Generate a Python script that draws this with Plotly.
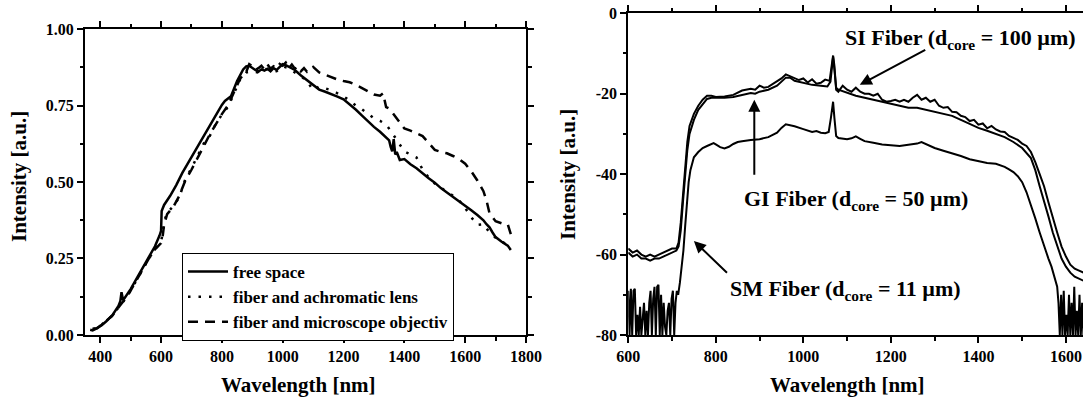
import plotly.graph_objects as go

FONT = "Liberation Serif"

# ---------------- Left panel data ----------------
free_space_wl = [367, 375, 385, 395, 405, 420, 440, 460, 466, 470, 475, 480, 500, 520, 540, 560,
                 580, 595, 600, 602, 610, 630, 650, 670, 690, 710, 730, 750, 770, 790, 800, 810,
                 830, 850, 870, 880, 890, 900, 910, 920, 930, 940, 950, 960, 970, 980, 990, 1000,
                 1010, 1020, 1040, 1060, 1080, 1100, 1120, 1140, 1160, 1180, 1200, 1220, 1240,
                 1260, 1280, 1300, 1320, 1340, 1350, 1355, 1360, 1365, 1370, 1375, 1385, 1400,
                 1420, 1440, 1460, 1480, 1500, 1520, 1540, 1560, 1580, 1600, 1620, 1640, 1660,
                 1670, 1680, 1690, 1700, 1720, 1740, 1750]
free_space_int = [0.017, 0.015, 0.020, 0.025, 0.032, 0.045, 0.065, 0.095, 0.110, 0.140, 0.115,
                  0.120, 0.150, 0.185, 0.220, 0.255, 0.290, 0.325, 0.340, 0.405, 0.425, 0.455,
                  0.490, 0.530, 0.565, 0.600, 0.635, 0.665, 0.700, 0.735, 0.752, 0.765, 0.780,
                  0.830, 0.868, 0.878, 0.880, 0.872, 0.866, 0.860, 0.868, 0.864, 0.870, 0.862,
                  0.872, 0.866, 0.875, 0.885, 0.882, 0.876, 0.866, 0.848, 0.832, 0.818, 0.802,
                  0.795, 0.788, 0.779, 0.770, 0.755, 0.737, 0.718, 0.698, 0.680, 0.664, 0.645,
                  0.636, 0.615, 0.600, 0.640, 0.590, 0.598, 0.572, 0.575, 0.558, 0.545, 0.528,
                  0.512, 0.498, 0.480, 0.466, 0.452, 0.438, 0.424, 0.408, 0.392, 0.375, 0.362,
                  0.352, 0.335, 0.320, 0.305, 0.292, 0.278]

achromatic_wl = [375, 390, 400, 420, 440, 460, 480, 500, 520, 540, 560, 580, 600, 605, 610, 620,
                 640, 660, 680, 700, 720, 740, 760, 780, 800, 820, 840, 860, 880, 900, 920, 940,
                 960, 980, 1000, 1020, 1040, 1060, 1080, 1100, 1120, 1140, 1160, 1180, 1200,
                 1220, 1240, 1260, 1280, 1300, 1320, 1340, 1360, 1380, 1400, 1420, 1440, 1460,
                 1480, 1500, 1520, 1540, 1560, 1580, 1600, 1620, 1640, 1660, 1680, 1700, 1720,
                 1740, 1750]
achromatic_int = [0.020, 0.022, 0.030, 0.045, 0.063, 0.090, 0.115, 0.145, 0.180, 0.215, 0.250,
                  0.280, 0.305, 0.330, 0.370, 0.400, 0.420, 0.450, 0.510, 0.545, 0.585, 0.625,
                  0.650, 0.690, 0.720, 0.745, 0.790, 0.835, 0.858, 0.862, 0.858, 0.870, 0.866,
                  0.862, 0.878, 0.872, 0.858, 0.846, 0.830, 0.800, 0.812, 0.806, 0.800, 0.790,
                  0.780, 0.766, 0.750, 0.738, 0.722, 0.708, 0.700, 0.688, 0.660, 0.630, 0.600,
                  0.590, 0.580, 0.540, 0.515, 0.495, 0.480, 0.468, 0.455, 0.440, 0.415, 0.385,
                  0.360, 0.362, 0.335, 0.318, 0.305, 0.295, 0.285]

microscope_wl = [375, 390, 400, 420, 440, 460, 480, 500, 520, 540, 560, 580, 600, 605, 610, 620,
                 640, 660, 680, 700, 720, 740, 760, 780, 800, 820, 840, 860, 880, 890, 900, 910,
                 920, 930, 940, 950, 960, 970, 980, 990, 1000, 1010, 1020, 1030, 1040, 1050,
                 1060, 1070, 1080, 1090, 1100, 1120, 1140, 1160, 1180, 1200, 1220, 1240, 1260,
                 1280, 1300, 1320, 1330, 1340, 1350, 1360, 1380, 1400, 1420, 1440, 1460, 1480,
                 1500, 1520, 1540, 1560, 1580, 1600, 1620, 1640, 1660, 1670, 1680, 1700, 1720,
                 1740, 1750]
microscope_int = [0.020, 0.022, 0.030, 0.045, 0.063, 0.090, 0.115, 0.145, 0.180, 0.215, 0.250,
                  0.280, 0.300, 0.320, 0.360, 0.395, 0.418, 0.455, 0.505, 0.540, 0.580, 0.620,
                  0.655, 0.688, 0.722, 0.750, 0.795, 0.838, 0.860, 0.885, 0.878, 0.866, 0.872,
                  0.880, 0.868, 0.884, 0.870, 0.878, 0.872, 0.886, 0.880, 0.890, 0.872, 0.884,
                  0.870, 0.878, 0.862, 0.872, 0.860, 0.868, 0.876, 0.858, 0.850, 0.842, 0.835,
                  0.830, 0.826, 0.818, 0.808, 0.796, 0.786, 0.782, 0.790, 0.745, 0.740, 0.728,
                  0.700, 0.675, 0.668, 0.660, 0.650, 0.628, 0.605, 0.598, 0.594, 0.585, 0.575,
                  0.560, 0.535, 0.505, 0.470, 0.440, 0.398, 0.372, 0.365, 0.362, 0.330]

# ---------------- Right panel data ----------------
si_wl = [600, 610, 620, 630, 640, 650, 660, 670, 680, 690, 700, 710, 715, 720, 725, 730, 735,
         740, 750, 760, 770, 780, 790, 800, 820, 840, 860, 880, 890, 900, 910, 920, 930, 940,
         950, 960, 970, 980, 990, 1000, 1010, 1020, 1030, 1040, 1050, 1060, 1065, 1068, 1071,
         1075, 1080, 1090, 1100, 1110, 1120, 1130, 1140, 1150, 1160, 1170, 1180, 1190, 1200,
         1210, 1220, 1230, 1240, 1250, 1260, 1270, 1280, 1290, 1300, 1310, 1320, 1330, 1340,
         1350, 1360, 1370, 1380, 1390, 1400, 1410, 1420, 1430, 1440, 1450, 1460, 1470, 1480,
         1490, 1500, 1510, 1520, 1530, 1540, 1550, 1560, 1570, 1580, 1590, 1600, 1610, 1620,
         1630, 1640]
si_db = [-58.5, -59.5, -59.0, -60.0, -60.5, -60.0, -60.5, -60.0, -59.5, -59.0, -58.5, -58.5,
         -57.0, -52.0, -45.0, -38.0, -32.0, -28.0, -25.0, -23.0, -21.5, -20.5, -20.5, -20.8,
         -20.7, -20.3, -19.2, -18.8, -19.0, -18.0, -18.5, -18.3, -17.6, -17.0, -16.2, -15.2,
         -15.7, -16.0, -16.6, -16.2, -17.2, -16.4, -17.5, -17.3, -16.5, -16.8, -13.0, -10.5,
         -13.0, -19.0, -19.5, -18.0, -19.0, -19.5, -18.5, -19.5, -20.0, -20.0, -20.5, -20.0,
         -21.5, -22.0, -21.8, -21.5, -22.0, -21.5, -22.0, -21.0, -20.3, -21.5, -21.0, -22.0,
         -21.5, -23.0, -23.5, -23.3, -24.5, -24.6, -25.5, -25.8, -26.8, -26.5, -27.7, -27.4,
         -28.6, -28.0, -28.9, -29.4, -29.5, -30.5, -31.0, -31.5, -32.4, -33.0, -34.5, -37.0,
         -40.0, -43.0, -47.0, -51.0, -54.5, -58.0, -60.5, -62.5, -63.5, -64.0, -64.5]

gi_wl = [600, 610, 620, 630, 640, 650, 660, 670, 680, 690, 700, 710, 715, 720, 725, 730, 735,
         740, 750, 760, 770, 780, 790, 800, 820, 840, 860, 880, 890, 900, 920, 940, 960, 970,
         980, 1000, 1020, 1040, 1055, 1062, 1066, 1068, 1071, 1075, 1080, 1100, 1120, 1140,
         1160, 1180, 1200, 1220, 1240, 1260, 1280, 1300, 1320, 1340, 1360, 1380, 1400, 1420,
         1440, 1460, 1480, 1500, 1520, 1530, 1540, 1550, 1560, 1570, 1580, 1590, 1600, 1610,
         1620, 1630, 1640]
gi_db = [-59.5, -60.5, -60.0, -61.0, -61.0, -61.5, -61.0, -61.0, -60.5, -60.0, -59.5, -59.0,
         -58.0, -54.0, -47.0, -40.0, -34.0, -30.0, -26.5, -24.0, -22.5, -21.3, -21.0, -21.0,
         -21.0, -20.8, -20.3, -19.8, -20.0, -19.5, -19.0, -18.0, -16.0, -16.0, -16.8, -17.3,
         -17.8, -18.0, -18.2, -17.0, -12.0, -10.8, -14.0, -18.5, -19.0, -19.8, -20.5, -21.0,
         -21.5, -22.0, -22.5, -23.0, -23.5, -23.5, -24.0, -24.5, -25.0, -25.5, -26.5, -27.5,
         -28.5, -29.2, -30.0, -30.8, -32.0, -33.5, -36.0, -39.0, -43.0, -46.5, -50.5, -54.5,
         -58.0, -61.0, -63.0, -64.5, -65.5, -66.0, -66.5]

sm_wl = [600, 603, 606, 609, 612, 615, 618, 621, 624, 627, 630, 633, 636, 639, 642, 645, 648,
         651, 654, 657, 660, 663, 666, 669, 672, 675, 678, 681, 684, 687, 690, 693, 696, 699,
         702, 705, 708, 711, 714, 718, 722, 726, 730, 734, 738, 742, 746, 750, 760, 770, 780,
         790, 795, 800, 810, 820, 830, 840, 850, 860, 870, 880, 900, 920, 940, 950, 960, 970,
         980, 1000, 1010, 1020, 1030, 1040, 1050, 1058, 1063, 1066, 1068, 1071, 1075, 1080,
         1090, 1100, 1110, 1120, 1130, 1140, 1160, 1180, 1200, 1220, 1240, 1260, 1270, 1280,
         1300, 1320, 1340, 1360, 1380, 1400, 1420, 1440, 1460, 1470, 1480, 1490, 1500, 1510,
         1520, 1530, 1540, 1550, 1560, 1567, 1575, 1580, 1583, 1586, 1589, 1592, 1595, 1598,
         1601, 1604, 1607, 1610, 1613, 1616, 1619, 1622, 1625, 1628, 1631, 1634, 1637, 1640]
sm_db = [-69.0, -80.0, -68.5, -80.0, -69.0, -68.5, -80.0, -75.0, -80.0, -73.0, -80.0, -76.0,
         -72.0, -80.0, -74.0, -80.0, -72.0, -69.0, -80.0, -71.0, -68.0, -80.0, -68.0, -67.5,
         -80.0, -70.0, -80.0, -72.0, -78.0, -80.0, -74.0, -72.0, -80.0, -71.0, -69.0, -80.0,
         -72.0, -69.0, -70.0, -67.0, -63.0, -59.0, -53.0, -47.0, -42.0, -39.0, -37.0, -35.8,
         -34.5, -33.5, -33.0, -32.5, -32.3, -32.6, -33.3, -33.6, -33.2, -32.5, -32.0, -31.8,
         -31.6, -31.5, -31.3, -30.8, -29.7, -28.5, -27.6, -27.8, -28.1, -28.8, -29.2, -29.5,
         -29.3, -29.7, -29.8, -29.5, -26.0, -22.5, -22.0, -26.0, -30.5, -31.0, -31.2, -31.3,
         -31.1, -30.6, -31.2, -31.8, -32.2, -32.6, -32.8, -33.0, -32.7, -32.4, -32.0, -32.5,
         -33.5, -34.2, -34.8, -35.5, -36.3, -36.8, -37.2, -37.4, -38.2, -38.8, -39.5, -40.5,
         -42.0, -44.5, -47.5, -51.0, -54.5, -58.0, -61.0, -63.0, -66.0, -68.0, -72.0, -80.0,
         -70.0, -80.0, -69.0, -80.0, -75.0, -80.0, -70.0, -80.0, -72.0, -80.0, -68.0, -80.0,
         -74.0, -80.0, -70.0, -80.0, -72.0, -80.0]

left_xticks = [400, 600, 800, 1000, 1200, 1400, 1600, 1800]
left_yticks = [0.0, 0.25, 0.5, 0.75, 1.0]
left_yticklabels = ["0.00", "0.25", "0.50", "0.75", "1.00"]
right_xticks = [600, 800, 1000, 1200, 1400, 1600]
right_yticks = [-80, -60, -40, -20, 0]
right_yticklabels = ["-80", "-60", "-40", "-20", "0"]

# ---------------- Figure ----------------
fig = go.Figure()
fig.add_trace(go.Scatter(x=free_space_wl, y=free_space_int, mode="lines", name="free space",
                         line=dict(color="black", width=2.5), xaxis="x", yaxis="y"))
fig.add_trace(go.Scatter(x=achromatic_wl, y=achromatic_int, mode="lines",
                         name="fiber and achromatic lens",
                         line=dict(color="black", width=2.5, dash="2.5px,8px"), xaxis="x", yaxis="y"))
fig.add_trace(go.Scatter(x=microscope_wl, y=microscope_int, mode="lines",
                         name="fiber and microscope objectiv",
                         line=dict(color="black", width=2.5, dash="10px,7px"), xaxis="x", yaxis="y"))

for wl, db in [(si_wl, si_db), (gi_wl, gi_db), (sm_wl, sm_db)]:
    fig.add_trace(go.Scatter(x=wl, y=db, mode="lines", showlegend=False,
                             line=dict(color="black", width=2), xaxis="x2", yaxis="y2"))

tickfont = dict(family=FONT, size=16, color="black", weight="bold")
common = dict(showline=True, linecolor="black", linewidth=2, ticks="outside", ticklen=6,
              tickwidth=1.5, tickcolor="black", showgrid=False, zeroline=False,
              tickfont=tickfont, automargin=False)

fig.update_layout(
    width=1083, height=399,
    margin=dict(l=0, r=0, t=0, b=0, pad=0, autoexpand=False),
    paper_bgcolor="white", plot_bgcolor="white",
    font=dict(family=FONT, size=16, color="black", weight="bold"),
    xaxis=dict(domain=[0.0785, 0.4857], range=[350, 1800], anchor="y", mirror="allticks",
               tickmode="array", tickvals=left_xticks,
               minor=dict(ticks="outside", ticklen=3.5, tickwidth=1.5, tickcolor="black",
                          tickmode="linear", tick0=0, dtick=100),
               **common),
    yaxis=dict(domain=[0.1604, 0.9273], range=[0, 1], anchor="x", mirror="allticks",
               tickmode="array", tickvals=left_yticks, ticktext=left_yticklabels,
               minor=dict(ticks="outside", ticklen=3.5, tickwidth=1.5, tickcolor="black",
                          tickmode="linear", tick0=0, dtick=0.125),
               **common),
    xaxis2=dict(domain=[0.5801, 1.0], range=[600, 1639], anchor="y2", mirror="allticks",
                tickmode="array", tickvals=right_xticks,
                minor=dict(ticks="outside", ticklen=3.5, tickwidth=1.5, tickcolor="black",
                           tickmode="linear", tick0=0, dtick=100),
                **common),
    yaxis2=dict(domain=[0.1604, 0.9667], range=[-80, 0], anchor="x2", mirror=False,
                tickmode="array", tickvals=right_yticks, ticktext=right_yticklabels,
                minor=dict(ticks="outside", ticklen=3.5, tickwidth=1.5, tickcolor="black",
                           tickmode="linear", tick0=0, dtick=10),
                **common),
    legend=dict(x=182 / 1083, y=(399 - 253) / 399, xanchor="left", yanchor="top",
                bgcolor="white", bordercolor="black", borderwidth=1,
                font=dict(family=FONT, size=17, color="black", weight="bold"),
                tracegroupgap=0, itemwidth=40),
    showlegend=True,
)

title_font = dict(family=FONT, size=21, color="black", weight="bold")
label_font = dict(family=FONT, size=22, color="black", weight="bold")
annotations = [
    dict(text="Wavelength [nm]", x=298 / 1083, y=(399 - 385) / 399, xref="paper", yref="paper",
         showarrow=False, font=title_font, xanchor="center", yanchor="middle"),
    dict(text="Wavelength [nm]", x=847 / 1083, y=(399 - 385) / 399, xref="paper", yref="paper",
         showarrow=False, font=title_font, xanchor="center", yanchor="middle"),
    dict(text="Intensity [a.u.]", x=19 / 1083, y=(399 - 177) / 399, xref="paper", yref="paper",
         showarrow=False, font=title_font, textangle=-90, xanchor="center", yanchor="middle"),
    dict(text="Intensity [a.u.]", x=568 / 1083, y=(399 - 175) / 399, xref="paper", yref="paper",
         showarrow=False, font=title_font, textangle=-90, xanchor="center", yanchor="middle"),
    # fiber labels
    dict(text="SI Fiber (d<sub>core</sub> = 100 µm)", x=1358, y=-6.5, xref="x2", yref="y2",
         showarrow=False, font=label_font, xanchor="center", yanchor="middle"),
    dict(text="GI Fiber (d<sub>core</sub> = 50 µm)", x=1120, y=-46.5, xref="x2", yref="y2",
         showarrow=False, font=label_font, xanchor="center", yanchor="middle"),
    dict(text="SM Fiber (d<sub>core</sub> = 11 µm)", x=1097, y=-68.8, xref="x2", yref="y2",
         showarrow=False, font=label_font, xanchor="center", yanchor="middle"),
]
arrows = [
    (1129, -17.8, 1282, -8.9),
    (888, -21.5, 888, -40.5),
    (750, -56.6, 829, -64.9),
]
for hx, hy, tx, ty in arrows:
    annotations.append(dict(text="", x=hx, y=hy, ax=tx, ay=ty, xref="x2", yref="y2",
                            axref="x2", ayref="y2", showarrow=True, arrowhead=2,
                            arrowsize=1.2, arrowwidth=2, arrowcolor="black",
                            standoff=0, startstandoff=0))
fig.update_layout(annotations=annotations)

fig.write_html("out.html")
